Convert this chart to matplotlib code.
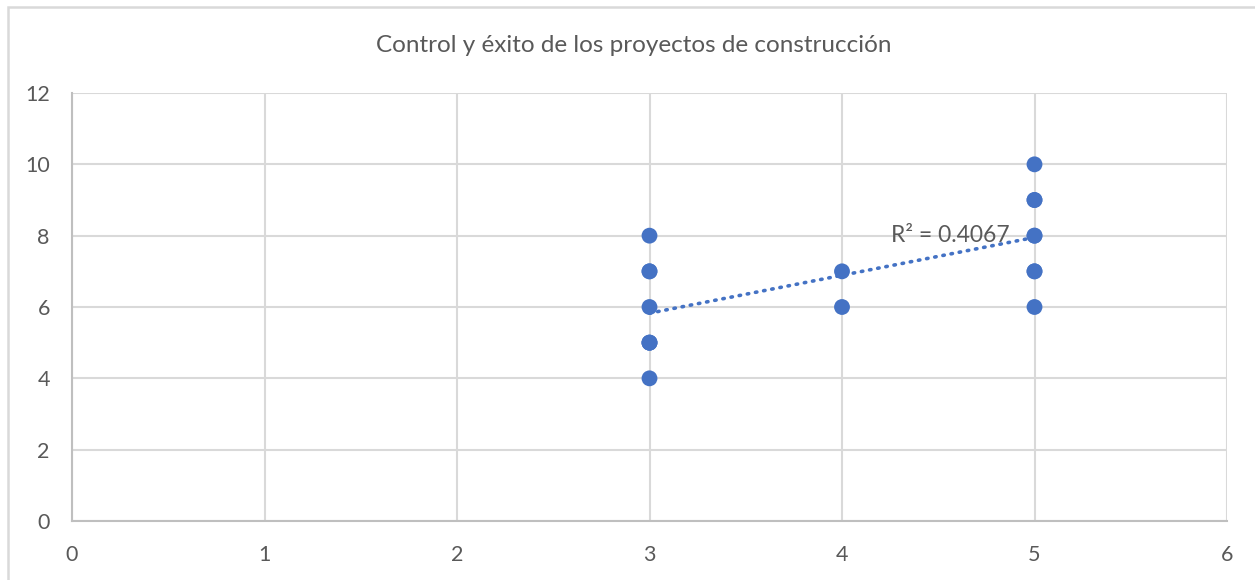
import numpy as np
import matplotlib
matplotlib.use('Agg')
import matplotlib.pyplot as plt
from matplotlib.patches import Rectangle

# Puntuaciones de la encuesta: nivel de control (x) y éxito del proyecto (y)
control = [3, 3, 3, 3, 3, 3, 3, 3,
           4, 4,
           5, 5, 5, 5, 5, 5, 5, 5]
exito = [4, 5, 5, 5, 6, 7, 7, 8,
         6, 7,
         6, 7, 7, 8, 8, 9, 9, 10]
titulo = 'Control y éxito de los proyectos de construcción'
etiqueta_r2 = 'R² = 0.4067'

AZUL = '#4472C4'
GRIS_TEXTO = '#595959'
GRIS_REJILLA = '#d9d9d9'
GRIS_EJE = '#bfbfbf'

plt.rcParams['font.family'] = ['Lato', 'DejaVu Sans']

W, H = 1255, 580
fig = plt.figure(figsize=(W / 100, H / 100), dpi=100)
ax = fig.add_axes([72 / W, 1 - 521 / H, (1227 - 72) / W, (521 - 93) / H])

# marco del gráfico
fig.patches.append(Rectangle((8 / W, -0.05), 1.1, 1 - 7 / H + 0.05,
                             transform=fig.transFigure, fill=False,
                             edgecolor=GRIS_REJILLA, lw=1.8))

x = np.array(control, dtype=float)
y = np.array(exito, dtype=float)

# línea de tendencia lineal
pend, orig = np.polyfit(x, y, 1)
xt = np.array([x.min(), x.max()])
ax.plot(xt, pend * xt + orig, color=AZUL, lw=2.6, linestyle=(0, (0.4, 1.9)),
        dash_capstyle='round', zorder=3)

ax.scatter(x, y, s=130, color=AZUL, edgecolors='none', zorder=4)

ax.text(4.87, 8.0, etiqueta_r2, ha='right', va='center', fontsize=16.5,
        color=GRIS_TEXTO, zorder=5)

ax.set_xlim(0, 6)
ax.set_ylim(0, 12)
ax.set_xticks(range(0, 7))
ax.set_yticks(range(0, 13, 2))
ax.grid(True, color=GRIS_REJILLA, lw=1.5)
ax.set_axisbelow(True)
for lado in ['top', 'right']:
    ax.spines[lado].set_visible(False)
for lado in ['left', 'bottom']:
    ax.spines[lado].set_color(GRIS_EJE)
    ax.spines[lado].set_linewidth(1.5)
ax.tick_params(length=0, labelsize=15.5, labelcolor=GRIS_TEXTO)
ax.tick_params(axis='y', pad=16)
ax.tick_params(axis='x', pad=17)

fig.text(634 / W, 1 - 45 / H, titulo, ha='center', va='center',
         fontsize=17.5, color=GRIS_TEXTO)

fig.savefig('out.png', dpi=100, facecolor='white')
